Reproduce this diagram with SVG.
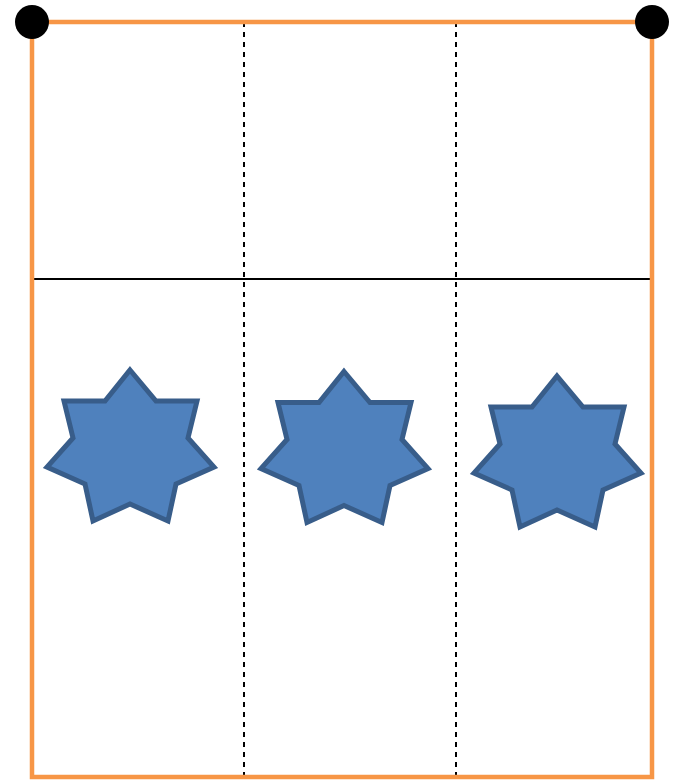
<svg xmlns="http://www.w3.org/2000/svg" xmlns:xlink="http://www.w3.org/1999/xlink" width="677" height="780" viewBox="0 0 677 780">
<style>
.frame{fill:none;stroke:#F79646;stroke-width:4.5}
.dash{stroke:#000;stroke-width:2;stroke-dasharray:5,5}
.hline{stroke:#000;stroke-width:2}
.star{fill:#4F81BD;stroke:#385D8A;stroke-width:5;stroke-linejoin:miter}
.dot{fill:#000}
</style>
<defs>
<polygon id="star7" points="130,370 156,401 197,401 188,438 214,467 176,484 168,521 130,504 93,521 85,484 47,467 73,438 64,401 105,401"/>
</defs>
<rect width="677" height="780" fill="#fff"/>
<g id="grid">
<line class="dash" x1="244" y1="22" x2="244" y2="777"/>
<line class="dash" x1="456" y1="22" x2="456" y2="777"/>
<line class="hline" x1="32" y1="279" x2="652" y2="279"/>
</g>
<rect id="frame" class="frame" x="32" y="22" width="620" height="755"/>
<g id="star1"><use xlink:href="#star7" class="star"/></g>
<g id="star2"><use xlink:href="#star7" class="star" transform="translate(214,1.5)"/></g>
<g id="star3"><use xlink:href="#star7" class="star" transform="translate(427,6)"/></g>
<g id="dot1"><circle class="dot" cx="32" cy="22" r="17"/></g>
<g id="dot2"><circle class="dot" cx="652" cy="22" r="17"/></g>
</svg>
